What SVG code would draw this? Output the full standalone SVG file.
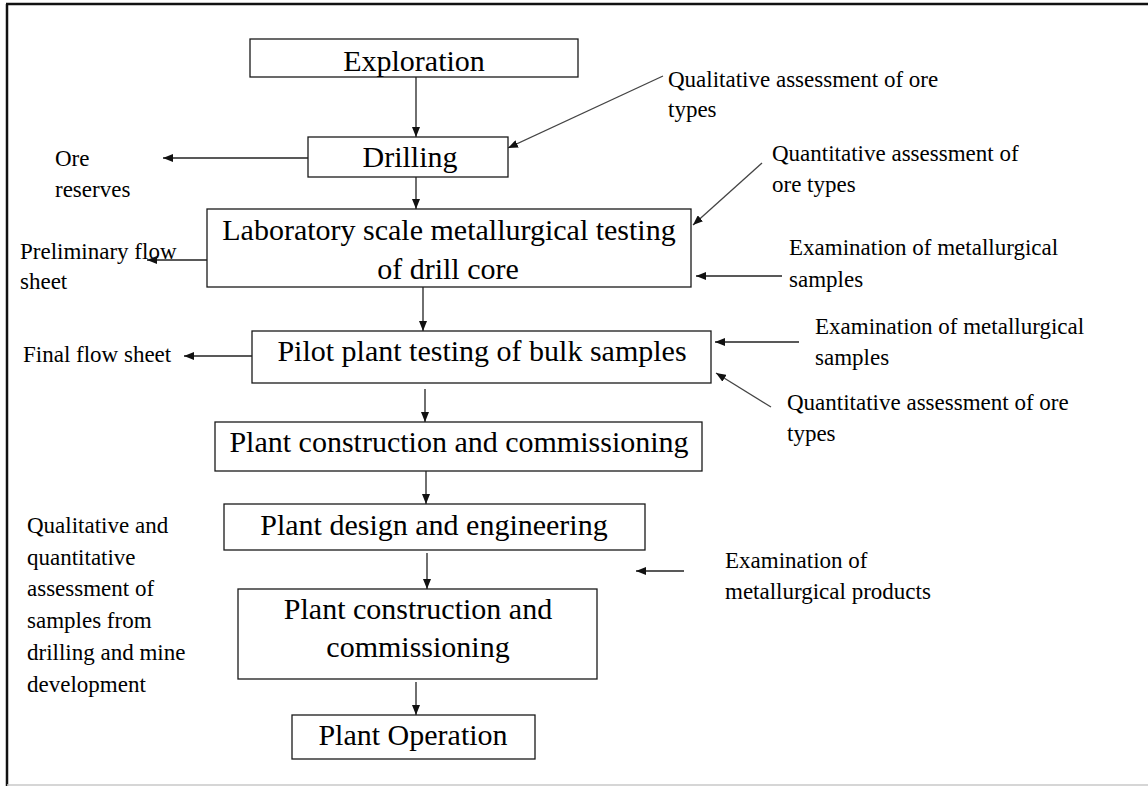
<svg xmlns="http://www.w3.org/2000/svg" width="1148" height="786" viewBox="0 0 1148 786">
  <style>
    .box { fill: #ffffff; stroke: #1a1a1a; stroke-width: 1.3; }
    .node-text { font-family: "Liberation Serif", "Times New Roman", serif; font-size: 30px; fill: #000; text-anchor: middle; }
    .note { font-family: "Liberation Serif", "Times New Roman", serif; font-size: 23px; fill: #000; }
    .link { fill: none; stroke: #222; stroke-width: 1.3; marker-end: url(#head); }
    .link-diag { fill: none; stroke: #444; stroke-width: 1.3; marker-end: url(#head); }
  </style>
  <defs>
    <marker id="head" markerUnits="userSpaceOnUse" markerWidth="10" markerHeight="8" refX="10" refY="4" orient="auto">
      <path d="M0,0 L10,4 L0,8 z" fill="#111"/>
    </marker>
  </defs>

  <!-- page background and frame -->
  <rect x="0" y="0" width="1148" height="786" fill="#ffffff"/>
  <line x1="6" y1="4" x2="1148" y2="4" stroke="#111" stroke-width="2.5"/>
  <line x1="7" y1="4" x2="7" y2="786" stroke="#111" stroke-width="2.5"/>
  <line x1="7" y1="785" x2="1148" y2="785" stroke="#c8c8c8" stroke-width="1.5"/>

  <!-- process steps -->
  <g id="exploration">
    <rect class="box" x="250" y="39" width="328" height="38"/>
    <text class="node-text" x="414" y="71">Exploration</text>
  </g>
  <g id="drilling">
    <rect class="box" x="308" y="137" width="200" height="40"/>
    <text class="node-text" x="410" y="167">Drilling</text>
  </g>
  <g id="lab-testing">
    <rect class="box" x="207" y="209" width="484" height="78"/>
    <text class="node-text" x="449" y="240">Laboratory scale metallurgical testing</text>
    <text class="node-text" x="448" y="279">of drill core</text>
  </g>
  <g id="pilot-plant">
    <rect class="box" x="252" y="331" width="459" height="52"/>
    <text class="node-text" x="482" y="361">Pilot plant testing of bulk samples</text>
  </g>
  <g id="construction-1">
    <rect class="box" x="215" y="422" width="487" height="49"/>
    <text class="node-text" x="459" y="452">Plant construction and commissioning</text>
  </g>
  <g id="plant-design">
    <rect class="box" x="224" y="504" width="421" height="46"/>
    <text class="node-text" x="434" y="535">Plant design and engineering</text>
  </g>
  <g id="construction-2">
    <rect class="box" x="238" y="589" width="359" height="90"/>
    <text class="node-text" x="418" y="619">Plant construction and</text>
    <text class="node-text" x="418" y="657">commissioning</text>
  </g>
  <g id="plant-operation">
    <rect class="box" x="292" y="715" width="243" height="44"/>
    <text class="node-text" x="413" y="745">Plant Operation</text>
  </g>

  <!-- side annotations -->
  <g id="notes">
    <text class="note" x="668" y="87">Qualitative assessment of ore</text>
    <text class="note" x="668" y="117">types</text>

    <text class="note" x="772" y="161">Quantitative assessment of</text>
    <text class="note" x="772" y="192">ore types</text>

    <text class="note" x="789" y="255">Examination of metallurgical</text>
    <text class="note" x="789" y="287">samples</text>

    <text class="note" x="815" y="334">Examination of metallurgical</text>
    <text class="note" x="815" y="365">samples</text>

    <text class="note" x="787" y="410">Quantitative assessment of ore</text>
    <text class="note" x="787" y="441">types</text>

    <text class="note" x="725" y="568">Examination of</text>
    <text class="note" x="725" y="599">metallurgical products</text>

    <text class="note" x="55" y="166">Ore</text>
    <text class="note" x="55" y="197">reserves</text>

    <text class="note" x="20" y="259">Preliminary flow</text>
    <text class="note" x="20" y="289">sheet</text>

    <text class="note" x="23" y="362">Final flow sheet</text>

    <text class="note" x="27" y="533">Qualitative and</text>
    <text class="note" x="27" y="565">quantitative</text>
    <text class="note" x="27" y="596">assessment of</text>
    <text class="note" x="27" y="628">samples from</text>
    <text class="note" x="27" y="660">drilling and mine</text>
    <text class="note" x="27" y="692">development</text>
  </g>

  <!-- connectors -->
  <g id="connectors">
    <!-- main flow -->
    <line class="link" x1="416" y1="77" x2="416" y2="137"/>
    <line class="link" x1="416" y1="177" x2="416" y2="209"/>
    <line class="link" x1="423" y1="287" x2="423" y2="331"/>
    <line class="link" x1="425" y1="389" x2="425" y2="422"/>
    <line class="link" x1="426" y1="471" x2="426" y2="504"/>
    <line class="link" x1="427" y1="553" x2="427" y2="589"/>
    <line class="link" x1="416" y1="682" x2="416" y2="715"/>

    <!-- outputs to the left -->
    <line class="link" x1="308" y1="158" x2="163" y2="158"/>
    <line class="link" x1="207" y1="260" x2="147" y2="260"/>
    <line class="link" x1="252" y1="356" x2="184" y2="356"/>

    <!-- inputs from the right -->
    <line class="link-diag" x1="663" y1="76" x2="508" y2="148"/>
    <line class="link-diag" x1="762" y1="163" x2="693" y2="225"/>
    <line class="link" x1="782" y1="276" x2="696" y2="276"/>
    <line class="link" x1="799" y1="342" x2="715" y2="342"/>
    <line class="link-diag" x1="771" y1="407" x2="716" y2="373"/>
    <line class="link" x1="684" y1="571" x2="636" y2="571"/>
  </g>
</svg>
